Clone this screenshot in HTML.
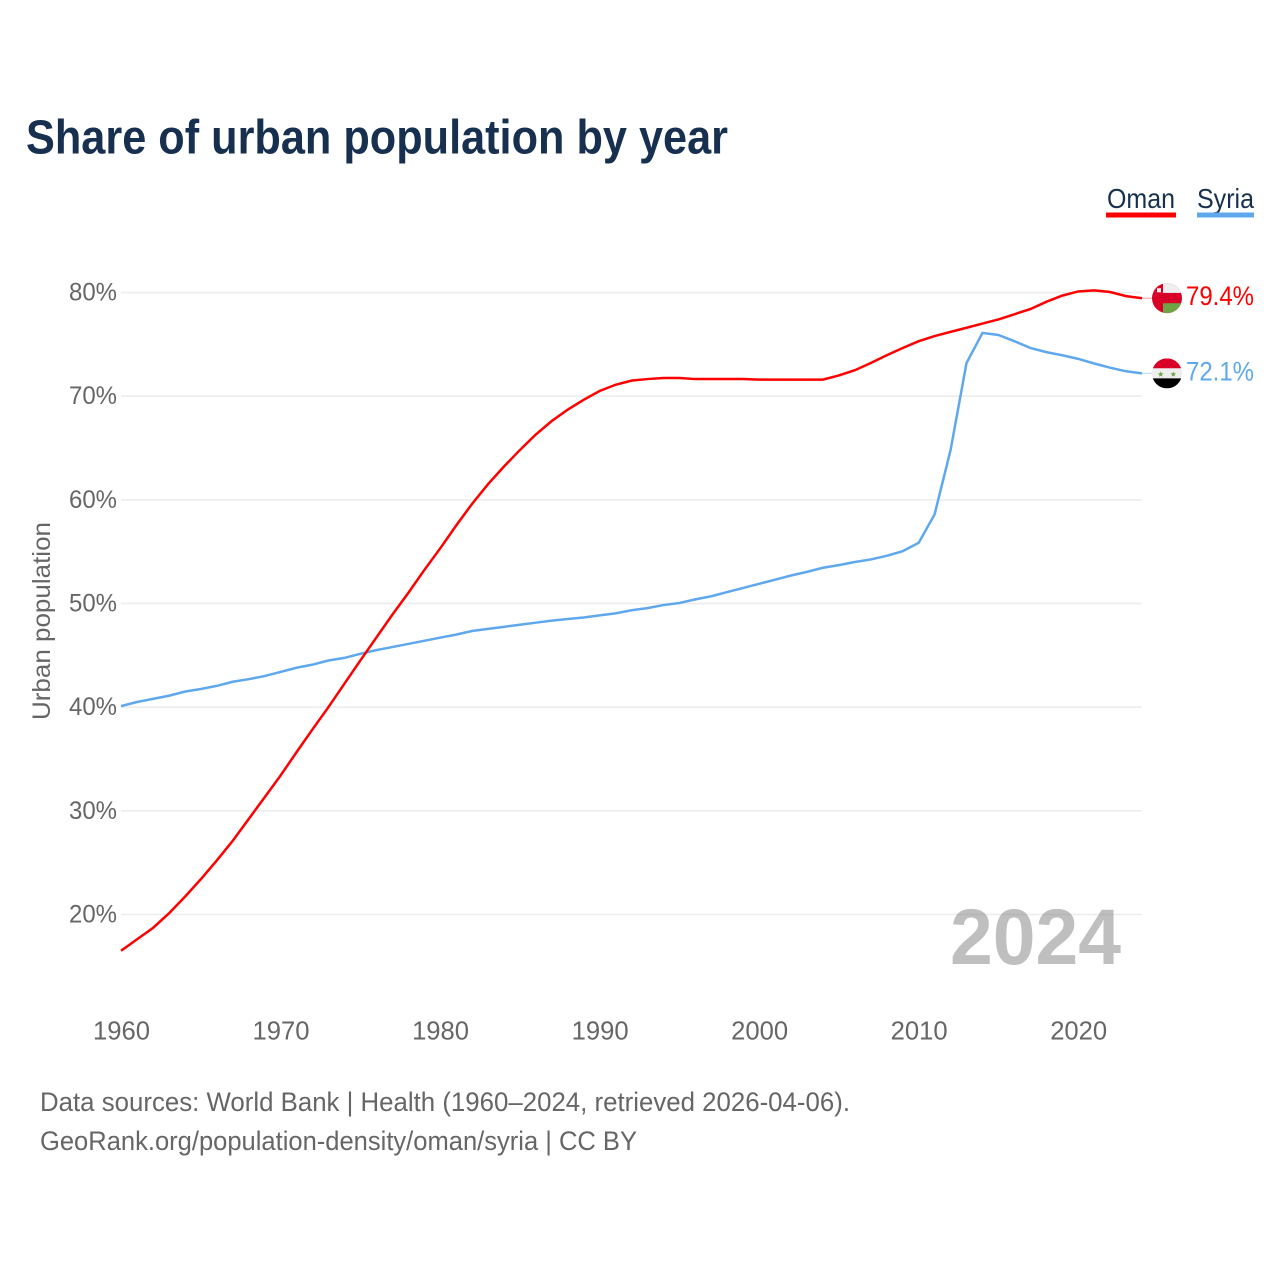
<!DOCTYPE html>
<html lang="en">
<head>
<meta charset="utf-8">
<title>Share of urban population by year</title>
<style>
html,body{margin:0;padding:0;background:#fff;}
svg{display:block;font-family:"Liberation Sans",sans-serif;}
</style>
</head>
<body>
<svg id="chart" xmlns="http://www.w3.org/2000/svg" width="1280" height="1280" viewBox="0 0 1280 1280">
  <rect x="0" y="0" width="1280" height="1280" fill="#ffffff"/>
  <text x="26" y="153.5" font-size="48" font-weight="700" fill="#17304f" textLength="702" lengthAdjust="spacingAndGlyphs">Share of urban population by year</text>

  <g>
    <g>
      <text x="1107" y="208" font-size="28" fill="#17304f" textLength="68" lengthAdjust="spacingAndGlyphs">Oman</text>
      <rect x="1106" y="212.5" width="70" height="5" fill="#ff0000"/>
    </g>
    <g>
      <text x="1197" y="208" font-size="28" fill="#17304f" textLength="57" lengthAdjust="spacingAndGlyphs">Syria</text>
      <rect x="1197" y="212.5" width="57" height="5" fill="#5fa8ee"/>
    </g>
  </g>

  <g id="grid"></g>
  <g id="yticks"></g>
  <g id="xticks"></g>

  <text transform="translate(50 720) rotate(-90)" x="0" y="0" font-size="25" fill="#666666" textLength="198" lengthAdjust="spacingAndGlyphs">Urban population</text>

  <text x="950" y="964" font-size="79" font-weight="700" fill="#808080" fill-opacity="0.5" textLength="171" lengthAdjust="spacingAndGlyphs">2024</text>

  <g id="lines"></g>
  <g id="ends"></g>

  <text x="40" y="1111" font-size="26.5" fill="#666666" textLength="810" lengthAdjust="spacingAndGlyphs">Data sources: World Bank | Health (1960–2024, retrieved 2026-04-06).</text>
  <text x="40" y="1150" font-size="26.5" fill="#666666" textLength="597" lengthAdjust="spacingAndGlyphs">GeoRank.org/population-density/oman/syria | CC BY</text>
</svg>
<script>
const years = [1960,1961,1962,1963,1964,1965,1966,1967,1968,1969,
  1970,1971,1972,1973,1974,1975,1976,1977,1978,1979,
  1980,1981,1982,1983,1984,1985,1986,1987,1988,1989,
  1990,1991,1992,1993,1994,1995,1996,1997,1998,1999,
  2000,2001,2002,2003,2004,2005,2006,2007,2008,2009,
  2010,2011,2012,2013,2014,2015,2016,2017,2018,2019,
  2020,2021,2022,2023,2024];
const omanValues = [16.5,17.6,18.7,20.1,21.7,23.4,25.2,27.1,29.2,31.3,
  33.4,35.65,37.85,40.0,42.25,44.5,46.7,48.9,51.0,53.2,
  55.3,57.5,59.6,61.5,63.2,64.8,66.3,67.6,68.7,69.65,
  70.5,71.1,71.5,71.65,71.75,71.75,71.65,71.65,71.65,71.65,
  71.6,71.6,71.6,71.6,71.6,72.0,72.5,73.2,73.95,74.65,
  75.3,75.8,76.2,76.6,77.0,77.4,77.9,78.4,79.1,79.7,
  80.1,80.2,80.05,79.65,79.45];
const syriaValues = [40.1,40.5,40.8,41.1,41.5,41.75,42.05,42.45,42.7,43.0,
  43.4,43.8,44.1,44.5,44.75,45.15,45.5,45.8,46.1,46.4,
  46.7,47.0,47.35,47.55,47.75,47.95,48.15,48.35,48.5,48.65,
  48.85,49.05,49.35,49.55,49.85,50.05,50.4,50.7,51.1,51.5,
  51.9,52.3,52.7,53.05,53.45,53.7,54.0,54.25,54.6,55.05,
  55.85,58.6,64.8,73.2,76.1,75.9,75.3,74.65,74.25,73.95,
  73.6,73.15,72.75,72.4,72.2];
const yTickValues = [20,30,40,50,60,70,80];
const xTickYears = [1960,1970,1980,1990,2000,2010,2020];
const omanValueLabel = "79.4%";
const syriaValueLabel = "72.1%";

const NS = "http://www.w3.org/2000/svg";
function xScale(year){ return 121 + (year - 1960) * (1142 - 121) / 64; }
function yScale(v){ return 292.5 + (80 - v) * (914.5 - 292.5) / 60; }
function make(tag, parent){
  const el = document.createElementNS(NS, tag);
  parent.appendChild(el);
  return el;
}
function linePath(values){
  return values.map(function(v, i){
    return (i ? "L" : "M") + xScale(years[i]).toFixed(2) + " " + yScale(v).toFixed(2);
  }).join(" ");
}

const gridG = document.getElementById("grid");
const yG = document.getElementById("yticks");
yTickValues.forEach(function(v){
  const ln = make("line", gridG);
  
  
  ln.setAttribute("x1", xScale(1960));
  ln.setAttribute("x2", xScale(2024));
  ln.setAttribute("y1", yScale(v));
  ln.setAttribute("y2", yScale(v));
  ln.setAttribute("stroke", "#ececec");
  ln.setAttribute("stroke-width", "1.5");
  const t = make("text", yG);
  
  
  t.setAttribute("x", 69);
  t.setAttribute("y", yScale(v) + 8);
  t.setAttribute("font-size", "25");
  t.setAttribute("fill", "#666666");
  t.setAttribute("textLength", "48");
  t.setAttribute("lengthAdjust", "spacingAndGlyphs");
  t.textContent = v + "%";
});

const xG = document.getElementById("xticks");
xTickYears.forEach(function(yr){
  const t = make("text", xG);
  
  
  t.setAttribute("x", xScale(yr) - 28);
  t.setAttribute("y", 1039.5);
  t.setAttribute("font-size", "25.5");
  t.setAttribute("fill", "#666666");
  t.setAttribute("textLength", "57");
  t.setAttribute("lengthAdjust", "spacingAndGlyphs");
  t.textContent = String(yr);
});

const linesG = document.getElementById("lines");
const syriaLine = make("path", linesG);


syriaLine.setAttribute("d", linePath(syriaValues));
syriaLine.setAttribute("fill", "none");
syriaLine.setAttribute("stroke", "#5fa8ee");
syriaLine.setAttribute("stroke-width", "2.5");
const omanLine = make("path", linesG);


omanLine.setAttribute("d", linePath(omanValues));
omanLine.setAttribute("fill", "none");
omanLine.setAttribute("stroke", "#ff0000");
omanLine.setAttribute("stroke-width", "2.5");

const endsG = document.getElementById("ends");
const cx = 1167, r = 15;

function endValueLabel(parent, cy, text, color, name){
  const t = make("text", parent);
  
  
  t.setAttribute("x", 1186);
  t.setAttribute("y", cy + 7);
  t.setAttribute("font-size", "26.5");
  t.setAttribute("fill", color);
  t.setAttribute("textLength", "68");
  t.setAttribute("lengthAdjust", "spacingAndGlyphs");
  t.textContent = text;
}
function connector(parent, cy, color, name){
  const c = make("line", parent);
  
  
  c.setAttribute("x1", xScale(2024));
  c.setAttribute("x2", cx - r);
  c.setAttribute("y1", cy);
  c.setAttribute("y2", cy);
  c.setAttribute("stroke", color);
  c.setAttribute("stroke-width", "1");
}
function clipCircle(id, cy){
  const cp = make("clipPath", endsG);
  cp.setAttribute("id", id);
  const c = make("circle", cp);
  c.setAttribute("cx", cx);
  c.setAttribute("cy", cy);
  c.setAttribute("r", r);
}
function band(parent, x, y, w, h, fill, name){
  const b = make("rect", parent);
  
  
  b.setAttribute("x", x);
  b.setAttribute("y", y);
  b.setAttribute("width", w);
  b.setAttribute("height", h);
  b.setAttribute("fill", fill);
  return b;
}
function star(parent, sx, sy, name){
  const s = make("polygon", parent);
  
  
  const pts = [];
  for (let i = 0; i < 10; i++) {
    const rad = i % 2 ? 1.3 : 3;
    const a = -Math.PI / 2 + i * Math.PI / 5;
    pts.push((sx + rad * Math.cos(a)).toFixed(2) + "," + (sy + rad * Math.sin(a)).toFixed(2));
  }
  s.setAttribute("points", pts.join(" "));
  s.setAttribute("fill", "#6da544");
}

const omanY = yScale(omanValues[omanValues.length - 1]);
const syriaY = yScale(syriaValues[syriaValues.length - 1]);
clipCircle("clip-oman", omanY);
clipCircle("clip-syria", syriaY);

connector(endsG, omanY, "#ff9a9a", "connector-oman");
const omanFlag = make("g", endsG);


omanFlag.setAttribute("clip-path", "url(#clip-oman)");
band(omanFlag, cx - r, omanY - r, 2 * r, 2 * r, "#d80027", "flag-oman-red");
band(omanFlag, cx - r, omanY - r, 2 * r, 9.7, "#eeeeee", "flag-oman-white");
band(omanFlag, cx - r, omanY - r, 11, 9.7, "#d80027", "flag-oman-hoist");
band(omanFlag, cx - 4, omanY + 5, r + 4, 10, "#6da544", "flag-oman-green");
band(omanFlag, cx - 10, omanY - 10, 4, 4, "#eeeeee", "flag-oman-emblem");
endValueLabel(endsG, omanY, omanValueLabel, "#ff0000", "value-label-oman");

connector(endsG, syriaY, "#b5d5f6", "connector-syria");
const syriaFlag = make("g", endsG);


syriaFlag.setAttribute("clip-path", "url(#clip-syria)");
band(syriaFlag, cx - r, syriaY - r, 2 * r, 10, "#d80027", "flag-syria-red");
band(syriaFlag, cx - r, syriaY - 5, 2 * r, 10, "#eeeeee", "flag-syria-white");
band(syriaFlag, cx - r, syriaY + 5, 2 * r, 10, "#000000", "flag-syria-black");
star(syriaFlag, cx - 6.3, syriaY + 1, "flag-syria-star-left");
star(syriaFlag, cx + 6.3, syriaY + 1, "flag-syria-star-right");
endValueLabel(endsG, syriaY, syriaValueLabel, "#5fa8ee", "value-label-syria");
</script>
</body>
</html>
